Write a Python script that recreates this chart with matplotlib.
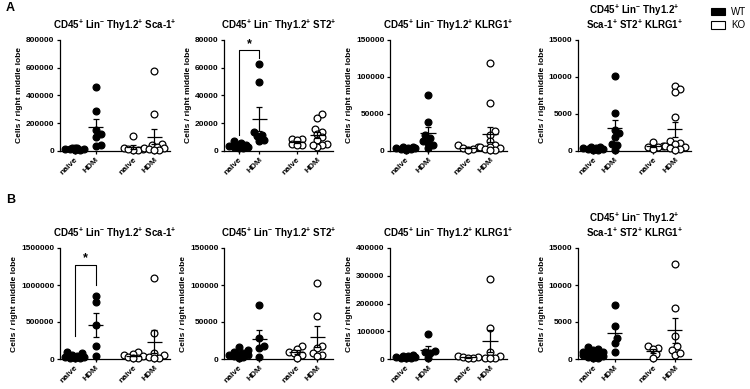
import numpy as np
import matplotlib.pyplot as plt
from matplotlib.patches import Patch

plt.rcParams['font.family'] = ['Liberation Sans', 'DejaVu Sans']
plt.rcParams['font.weight'] = 'bold'
plt.rcParams['mathtext.fontset'] = 'custom'
plt.rcParams['mathtext.rm'] = 'Liberation Sans:bold'
plt.rcParams['mathtext.it'] = 'Liberation Sans:bold'
plt.rcParams['mathtext.bf'] = 'Liberation Sans:bold'

# groups: WT naive, WT HDM, KO naive, KO HDM
group_labels = ['naive', 'HDM', 'naive', 'HDM']
group_pos = [0, 1, 2.8, 3.8]
group_ko = [False, False, True, True]

titles = [
    'CD45$^{+}$ Lin$^{-}$ Thy1.2$^{+}$ Sca-1$^{+}$',
    'CD45$^{+}$ Lin$^{-}$ Thy1.2$^{+}$ ST2$^{+}$',
    'CD45$^{+}$ Lin$^{-}$ Thy1.2$^{+}$ KLRG1$^{+}$',
    'CD45$^{+}$ Lin$^{-}$ Thy1.2$^{+}$\nSca-1$^{+}$ ST2$^{+}$ KLRG1$^{+}$',
]

# Row A
a_sca = [
    [25000, 20000, 15000, 12000, 18000, 10000, 8000, 22000],
    [460000, 290000, 150000, 120000, 100000, 40000, 35000],
    [105000, 20000, 15000, 10000, 8000, 12000],
    [576000, 264000, 50000, 45000, 30000, 25000, 20000, 15000, 10000, 10000],
]
a_st2 = [
    [7000, 5500, 4000, 3500, 3000, 2500, 2000, 4500, 3000],
    [63000, 49500, 14000, 11500, 10500, 8000, 7000],
    [9000, 8500, 8000, 5000, 4500, 4000],
    [26500, 23500, 15500, 14000, 12000, 10000, 8000, 5000, 4000, 3000, 4500],
]
a_klrg1 = [
    [6000, 5000, 4500, 4000, 3500, 3000, 2500, 2000],
    [75000, 39000, 22000, 17000, 14000, 11000, 8000, 4000],
    [8000, 6000, 4000, 3000, 2000],
    [119000, 64500, 27000, 22000, 14000, 8000, 6000, 5000, 3500, 2500, 1500, 1000],
]
a_triple = [
    [600, 500, 400, 300, 250, 200, 150, 400],
    [10200, 5200, 2800, 2400, 1900, 1000, 800, 200],
    [1200, 700, 600, 500, 300],
    [8800, 8400, 8000, 4600, 1300, 1100, 900, 700, 500, 400, 300, 200],
]

# Row B
b_sca = [
    [95000, 80000, 60000, 45000, 30000, 25000, 20000, 15000, 10000],
    [856000, 770000, 455000, 171000, 36000],
    [90000, 70000, 60000, 40000, 30000, 20000, 15000],
    [1100000, 350000, 80000, 50000, 30000, 20000, 10000],
]
b_st2 = [
    [16000, 12000, 10000, 8000, 7000, 6000, 5000, 4000, 3000, 2000],
    [73000, 28000, 17000, 15000, 3000],
    [18000, 14000, 10000, 8000, 5000, 2000],
    [103000, 58000, 17000, 15000, 8000, 6000, 4000],
]
b_klrg1 = [
    [15000, 12000, 10000, 8000, 6000, 5000, 4000, 3000],
    [90000, 30000, 25000, 20000, 3000],
    [10000, 8000, 6000, 3000, 2000],
    [290000, 112000, 27000, 10000, 5000, 3000, 2000],
]
b_triple = [
    [1600, 1400, 1200, 1000, 900, 800, 700, 600, 500, 400, 300, 200, 100],
    [7300, 4500, 2800, 2200, 1000],
    [1800, 1500, 1400, 700, 100],
    [12900, 6850, 3050, 1700, 1200, 600, 800],
]

yticks_a = [
    [0, 200000, 400000, 600000, 800000],
    [0, 20000, 40000, 60000, 80000],
    [0, 50000, 100000, 150000],
    [0, 5000, 10000, 15000],
]
yticks_b = [
    [0, 500000, 1000000, 1500000],
    [0, 50000, 100000, 150000],
    [0, 100000, 200000, 300000, 400000],
    [0, 5000, 10000, 15000],
]

# significance brackets: (row, col, left leg bottom, top, right leg bottom)
sig_brackets = [
    (0, 1, 11500, 72800, 67000),
    (1, 0, 306000, 1275000, 1000000),
]

rows = [[a_sca, a_st2, a_klrg1, a_triple], [b_sca, b_st2, b_klrg1, b_triple]]
row_ticks = [yticks_a, yticks_b]

W, H = 750, 389
fig = plt.figure(figsize=(7.5, 3.89), dpi=100)

lefts = [60, 224, 390, 578]
rights = [170, 333, 507, 691]
tops = [40, 248]
bottoms = [151, 359]

DIAM = 7.0  # marker diameter in px


def swarm_x(ax, x0, vals):
    # compact beeswarm in pixel space, overlap allowed
    pts = ax.transData.transform(np.column_stack([np.full(len(vals), x0), vals]))
    ys = pts[:, 1]
    order = np.argsort(ys)
    placed = []
    xs = np.zeros(len(vals))
    cands = [0.0]
    for j in range(1, 5):
        cands += [j * DIAM * 0.35, -j * DIAM * 0.35]
    for i in order:
        best, best_d = 0.0, -1
        for c in cands:
            d = min([np.hypot(c - px, ys[i] - py) for px, py in placed] + [99])
            if d >= DIAM * 0.7:
                best = c
                break
            if d > best_d + 0.5:
                best, best_d = c, d
        placed.append((best, ys[i]))
        xs[i] = pts[i, 0] + best
    back = ax.transData.inverted().transform(np.column_stack([xs, ys]))
    return back[:, 0]


axes = {}
for r in range(2):
    for c in range(4):
        ax = fig.add_axes([lefts[c] / W, 1 - bottoms[r] / H,
                           (rights[c] - lefts[c]) / W, (bottoms[r] - tops[r]) / H])
        axes[(r, c)] = ax
        data = rows[r][c]
        ticks = row_ticks[r][c]
        ax.set_xlim(-0.7, 4.55)
        ax.set_ylim(0, ticks[-1])
        for s in ['top', 'right']:
            ax.spines[s].set_visible(False)
        for s in ['left', 'bottom']:
            ax.spines[s].set_linewidth(0.9)
        ax.set_yticks(ticks)
        ax.set_yticklabels([str(t) for t in ticks], fontsize=6, fontweight='bold')
        ax.set_xticks(group_pos)
        ax.set_xticklabels(group_labels, rotation=45, ha='right', rotation_mode='anchor',
                           fontsize=6, fontweight='bold')
        ax.tick_params(length=2.5, width=0.9, pad=1.5)
        ax.set_ylabel('Cells / right middle lobe', fontsize=6, fontweight='bold', labelpad=2)
        ax.set_title(titles[c], fontsize=7, fontweight='bold', pad=8, linespacing=0.95)

        for g, vals in enumerate(data):
            vals = np.array(vals, dtype=float)
            x0 = group_pos[g]
            xs = swarm_x(ax, x0, vals)
            ax.scatter(xs, vals, s=24, marker='o',
                       facecolor='white' if group_ko[g] else 'black',
                       edgecolor='black', linewidth=0.9, zorder=3, clip_on=False)
            m = vals.mean()
            sem = vals.std(ddof=1) / np.sqrt(len(vals))
            ax.hlines(m, x0 - 0.35, x0 + 0.35, color='black', lw=0.9, zorder=4)
            ax.errorbar(x0, m, yerr=sem, fmt='none', ecolor='black', elinewidth=0.9,
                        capsize=2.5, capthick=0.9, zorder=4)

for r, c, yl, yt, yr in sig_brackets:
    ax = axes[(r, c)]
    x1, x2 = group_pos[0], group_pos[1]
    ax.plot([x1, x1, x2, x2], [yl, yt, yt, yr], color='black', lw=0.8, clip_on=False)
    ax.text((x1 + x2) / 2, yt, '*', ha='center', va='bottom', fontsize=9, fontweight='bold')

fig.text(6 / W, 1 - 8 / H, 'A', fontsize=9, va='center', ha='left')
fig.text(6 / W, 1 - 200 / H, 'B', fontsize=9, va='center', ha='left')

handles = [Patch(facecolor='black', edgecolor='black', linewidth=0.8),
           Patch(facecolor='white', edgecolor='black', linewidth=0.8)]
fig.legend(handles, ['WT', 'KO'], loc='upper left', bbox_to_anchor=(707 / W, 1 - 3 / H),
           borderaxespad=0, frameon=False, handlelength=1.45, handleheight=0.85,
           handletextpad=0.6, labelspacing=0.35, prop={'size': 7, 'weight': 'normal'})

fig.savefig('out.png', dpi=100)
